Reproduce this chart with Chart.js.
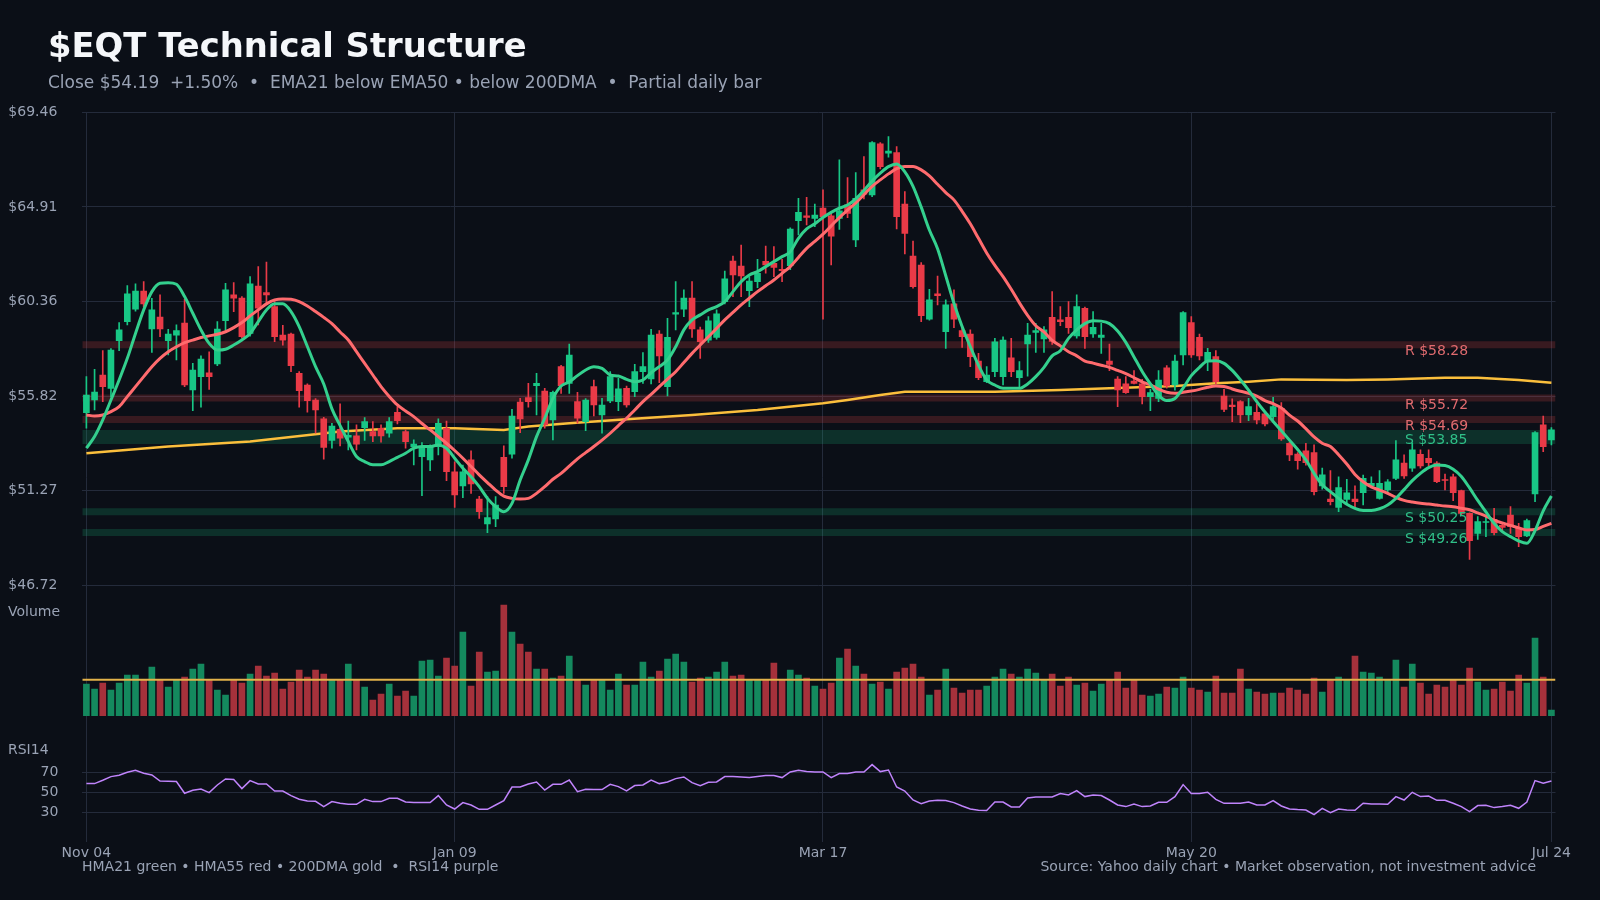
<!DOCTYPE html>
<html>
<head>
<meta charset="utf-8">
<title>$EQT Technical Structure</title>
<script src="https://cdn.jsdelivr.net/npm/chart.js@4.4.1/dist/chart.umd.min.js"></script>
<style>
  html, body { margin: 0; padding: 0; background: #0b0f17; }
  #wrap { position: relative; width: 1600px; height: 900px; overflow: hidden; background: #0b0f17; }
  #chart { position: absolute; left: 0; top: 0; }
  .txt { position: absolute; font-family: "DejaVu Sans", sans-serif; white-space: pre; }
  #title { left: 48px; top: 25.5px; font-size: 33.8px; line-height: 40px; font-weight: bold; color: #f5f7fa; }
  #subtitle { left: 48px; top: 71.5px; font-size: 17px; line-height: 20px; color: #9aa3b5; }
  #footLeft { left: 82px; top: 858px; font-size: 14px; line-height: 16px; color: #9aa3b5; }
  #footRight { right: 64px; top: 858px; font-size: 14px; line-height: 16px; color: #9aa3b5; }
</style>
</head>
<body>
<div id="wrap">
  <canvas id="chart" width="1600" height="900"></canvas>
  <div id="title" class="txt">$EQT Technical Structure</div>
  <div id="subtitle" class="txt">Close $54.19  +1.50%  •  EMA21 below EMA50 • below 200DMA  •  Partial daily bar</div>
  <div id="footLeft" class="txt">HMA21 green • HMA55 red • 200DMA gold  •  RSI14 purple</div>
  <div id="footRight" class="txt">Source: Yahoo daily chart • Market observation, not investment advice</div>
</div>
<script>
// daily bars, Nov 04 -> Jul 24 (180 sessions)
const opens = [
  55.02, 55.63, 56.83, 56.19, 58.48, 59.40, 60.00, 60.87, 59.04, 59.62,
  58.48, 58.75, 59.33, 56.11, 56.75, 56.94, 57.36, 59.44, 60.68, 60.53,
  58.83, 61.11, 60.79, 60.12, 58.75, 58.80, 56.91, 56.35, 55.63, 54.72,
  53.68, 54.22, 53.84, 53.90, 54.30, 54.11, 54.27, 54.03, 55.04, 54.11,
  53.39, 52.91, 52.75, 53.39, 54.27, 52.18, 51.50, 52.75, 50.87, 49.67,
  49.91, 52.87, 53.03, 55.53, 55.74, 56.32, 56.06, 54.67, 57.23, 56.43,
  55.55, 54.59, 56.27, 54.91, 55.58, 55.55, 56.19, 56.03, 56.99, 56.64,
  58.80, 56.27, 59.75, 60.00, 60.53, 59.00, 58.51, 58.64, 60.36, 62.31,
  62.07, 60.89, 61.32, 62.30, 62.20, 61.91, 62.09, 64.25, 64.48, 64.36,
  64.85, 64.48, 64.36, 65.01, 63.32, 65.73, 65.49, 67.94, 67.49, 67.52,
  65.05, 62.55, 62.12, 59.52, 60.73, 58.91, 60.25, 58.96, 58.80, 57.50,
  56.51, 56.99, 56.75, 57.66, 56.70, 58.32, 58.88, 58.56, 59.60, 59.48,
  59.60, 58.71, 60.04, 58.80, 58.64, 57.50, 56.64, 56.40, 56.54, 56.40,
  55.79, 55.71, 57.18, 56.35, 57.79, 59.35, 58.64, 57.47, 57.71, 55.82,
  55.39, 55.55, 54.91, 55.04, 54.96, 54.83, 55.23, 53.55, 53.03, 53.19,
  53.10, 51.50, 50.87, 50.47, 50.85, 50.87, 51.17, 51.50, 50.90, 51.30,
  51.86, 52.59, 52.35, 53.02, 52.83, 52.59, 51.80, 51.94, 51.27, 50.18,
  49.22, 49.74, 49.89, 49.60, 50.10, 49.46, 49.09, 51.11, 54.43, 53.71
];
const highs = [
  56.75, 57.10, 58.00, 58.10, 59.35, 61.13, 61.21, 61.32, 60.52, 60.68,
  59.03, 59.24, 60.47, 57.39, 57.75, 57.95, 59.40, 61.24, 61.27, 60.60,
  61.56, 62.04, 62.26, 60.40, 59.22, 58.85, 57.00, 56.40, 55.70, 54.80,
  54.51, 55.44, 54.62, 54.43, 54.78, 54.59, 54.43, 54.78, 55.31, 54.20,
  53.71, 53.58, 53.47, 54.72, 54.62, 52.66, 52.50, 53.19, 51.00, 50.98,
  50.98, 53.42, 55.18, 55.71, 56.43, 56.91, 56.19, 56.06, 57.30, 58.32,
  56.00, 55.70, 56.59, 55.71, 56.99, 56.67, 56.30, 57.34, 57.91, 59.03,
  58.96, 59.56, 61.32, 60.92, 61.32, 59.13, 59.64, 59.96, 61.83, 62.55,
  63.08, 61.56, 62.39, 63.03, 63.00, 62.39, 63.90, 65.33, 65.37, 65.05,
  65.73, 64.70, 67.17, 66.32, 66.56, 67.33, 68.05, 68.00, 68.29, 67.81,
  65.65, 63.27, 62.23, 60.95, 61.59, 60.44, 60.92, 59.07, 59.00, 57.87,
  57.23, 58.59, 58.67, 58.59, 57.47, 59.32, 59.32, 59.16, 60.84, 60.12,
  60.36, 60.68, 60.10, 59.88, 59.32, 58.32, 56.75, 56.75, 57.04, 56.62,
  56.14, 57.04, 57.28, 57.79, 59.88, 59.64, 58.80, 58.11, 58.00, 56.14,
  55.68, 55.60, 55.71, 55.44, 55.00, 55.76, 55.50, 53.60, 53.10, 53.55,
  53.47, 52.35, 52.23, 51.94, 51.81, 51.50, 52.02, 51.94, 52.23, 51.80,
  53.68, 52.99, 53.55, 53.23, 53.23, 52.67, 52.07, 52.07, 51.30, 50.20,
  50.02, 50.02, 50.42, 49.70, 50.50, 49.70, 49.90, 54.11, 54.86, 54.30
];
const lows = [
  54.27, 55.15, 55.55, 55.79, 58.00, 59.24, 59.90, 60.10, 57.91, 58.67,
  57.79, 57.55, 56.27, 55.12, 55.28, 56.14, 57.28, 59.00, 59.88, 58.60,
  58.70, 59.24, 60.28, 58.43, 58.27, 56.99, 55.28, 55.04, 54.03, 52.78,
  53.31, 53.42, 53.23, 53.23, 53.68, 53.63, 53.60, 53.84, 54.48, 53.31,
  52.51, 51.03, 52.23, 52.99, 51.75, 50.47, 50.93, 51.14, 49.94, 49.25,
  49.54, 51.14, 52.83, 54.06, 55.28, 54.91, 54.27, 53.71, 55.95, 55.95,
  54.51, 54.16, 54.86, 54.03, 55.50, 55.12, 55.28, 55.79, 56.43, 56.40,
  56.46, 55.82, 59.00, 59.64, 58.64, 57.63, 58.40, 58.55, 60.25, 60.60,
  60.60, 60.12, 61.03, 61.72, 61.56, 61.32, 61.90, 63.56, 64.04, 63.96,
  59.51, 62.12, 63.83, 64.40, 63.00, 65.30, 65.40, 66.74, 67.30, 63.85,
  62.65, 61.00, 59.40, 59.47, 60.20, 58.11, 59.11, 58.16, 57.23, 56.60,
  56.46, 56.75, 56.35, 56.75, 56.24, 56.78, 57.91, 57.91, 58.30, 59.20,
  58.83, 58.60, 58.11, 58.64, 57.87, 57.04, 55.31, 55.95, 56.40, 55.44,
  55.12, 55.55, 56.20, 56.10, 57.31, 57.68, 57.55, 57.04, 56.40, 55.07,
  54.59, 54.54, 54.64, 54.48, 54.38, 54.70, 53.68, 52.71, 52.30, 52.50,
  51.06, 51.34, 50.58, 50.26, 50.66, 50.47, 50.58, 51.40, 50.86, 51.14,
  51.80, 51.86, 52.19, 52.35, 52.46, 51.66, 51.30, 50.79, 50.10, 47.97,
  48.93, 49.06, 49.14, 49.30, 49.22, 48.58, 49.06, 50.74, 53.15, 53.47
];
const closes = [
  55.87, 56.01, 56.27, 58.03, 59.00, 60.73, 60.87, 60.25, 59.96, 59.04,
  58.80, 58.96, 56.35, 57.07, 57.60, 56.75, 59.04, 60.92, 60.53, 58.67,
  61.21, 60.04, 60.68, 58.67, 58.51, 57.28, 56.08, 55.60, 55.15, 53.35,
  54.38, 53.79, 53.93, 53.51, 54.59, 53.90, 53.90, 54.59, 54.64, 53.63,
  53.51, 53.39, 53.39, 54.51, 52.18, 51.06, 52.18, 51.59, 50.26, 49.97,
  50.58, 51.46, 54.86, 54.72, 55.55, 56.43, 54.43, 56.00, 56.32, 57.79,
  54.75, 55.63, 55.39, 55.39, 56.75, 56.16, 55.39, 56.99, 57.23, 58.75,
  57.75, 58.64, 59.83, 60.53, 59.04, 58.43, 59.44, 59.77, 61.45, 61.64,
  61.59, 61.35, 61.72, 62.12, 62.00, 61.85, 63.85, 64.65, 64.41, 64.52,
  64.44, 63.51, 64.72, 64.60, 65.33, 65.53, 68.00, 66.85, 67.60, 64.44,
  63.64, 61.08, 59.68, 60.44, 60.65, 60.20, 59.51, 58.67, 57.71, 56.70,
  56.83, 58.43, 58.51, 56.99, 57.04, 58.75, 58.96, 59.00, 58.45, 59.40,
  59.11, 60.12, 58.67, 59.12, 58.75, 57.34, 56.11, 55.98, 56.43, 55.79,
  55.98, 56.59, 56.30, 57.50, 59.83, 57.79, 57.75, 57.92, 56.51, 55.18,
  55.31, 54.91, 55.31, 54.67, 54.48, 55.31, 53.76, 52.99, 52.71, 52.62,
  51.22, 52.03, 50.74, 51.42, 51.17, 50.74, 51.86, 51.62, 51.62, 51.70,
  52.75, 51.98, 53.23, 52.46, 52.62, 51.70, 51.76, 51.17, 50.18, 48.87,
  49.78, 49.78, 49.25, 49.50, 49.54, 49.06, 49.83, 54.06, 53.39, 54.19
];
// volume, millions of shares
const volumes = [
  6.3, 5.3, 6.5, 5.1, 6.5, 8.1, 8.1, 7.1, 9.7, 7.1,
  5.7, 7.1, 7.7, 9.3, 10.3, 7.1, 5.1, 4.1, 7.1, 6.5,
  8.3, 9.9, 7.9, 8.5, 5.3, 6.7, 9.1, 7.7, 9.1, 8.3,
  7.1, 7.1, 10.3, 7.1, 5.7, 3.1, 4.3, 6.3, 3.9, 4.9,
  3.9, 10.9, 11.1, 7.9, 11.5, 9.9, 16.7, 5.9, 12.7, 8.7,
  8.9, 22.1, 16.7, 14.3, 12.7, 9.3, 9.3, 7.5, 7.9, 11.9,
  7.1, 6.1, 7.1, 7.1, 5.1, 8.3, 6.1, 6.1, 10.7, 7.7,
  8.9, 11.3, 12.3, 10.7, 6.7, 7.5, 7.7, 8.7, 10.7, 7.9,
  8.1, 7.1, 7.1, 7.1, 10.5, 7.1, 9.1, 8.1, 7.5, 5.9,
  5.3, 6.5, 11.5, 13.3, 9.9, 8.3, 6.3, 6.7, 5.3, 8.7,
  9.5, 10.3, 7.7, 4.1, 5.1, 9.3, 5.5, 4.5, 5.1, 5.1,
  5.9, 7.7, 9.3, 8.3, 7.7, 9.3, 8.5, 7.1, 8.3, 5.9,
  7.7, 6.1, 6.5, 4.9, 6.3, 7.1, 8.7, 5.5, 7.1, 4.1,
  3.9, 4.3, 5.7, 5.5, 7.7, 5.5, 5.1, 4.7, 7.9, 4.5,
  4.5, 9.3, 5.3, 4.7, 4.3, 4.5, 4.5, 5.5, 5.1, 4.3,
  7.5, 4.7, 7.1, 7.7, 7.1, 11.9, 8.7, 8.5, 7.7, 7.1,
  11.1, 5.7, 10.3, 6.5, 4.3, 6.1, 5.7, 7.1, 6.1, 9.5,
  6.7, 5.1, 5.3, 6.7, 4.9, 8.1, 6.5, 15.5, 7.7, 1.1
];
const volAvg = 7.2;
const rsi14 = [
  58.7, 58.7, 62.0, 65.7, 67.0, 70.0, 72.0, 69.0, 67.3, 61.3,
  61.0, 60.7, 49.0, 52.0, 53.3, 49.7, 57.3, 63.3, 62.7, 53.7,
  61.7, 58.3, 58.3, 51.3, 51.3, 46.7, 43.0, 41.3, 41.0, 35.7,
  40.7, 39.0, 38.0, 38.0, 43.0, 40.7, 40.7, 44.0, 44.0, 40.3,
  39.7, 39.7, 39.7, 46.7, 37.3, 33.3, 39.7, 37.3, 33.0, 33.0,
  37.3, 41.7, 55.3, 55.3, 58.3, 60.3, 52.3, 58.0, 58.0, 62.3,
  50.7, 53.0, 52.7, 52.7, 58.0, 55.7, 51.3, 56.7, 57.3, 62.3,
  58.7, 60.3, 63.7, 65.3, 59.7, 56.7, 60.0, 60.3, 65.7, 65.7,
  65.3, 64.7, 65.7, 66.7, 66.7, 64.7, 70.3, 72.0, 70.7, 70.3,
  70.3, 64.7, 68.7, 68.7, 70.3, 70.3, 77.7, 70.7, 72.3, 55.3,
  51.3, 42.3, 38.7, 41.3, 42.0, 41.7, 39.7, 36.3, 33.3, 32.0,
  31.7, 40.3, 40.3, 35.3, 35.3, 44.3, 45.3, 45.3, 45.3, 48.7,
  47.3, 51.7, 45.7, 47.3, 46.7, 42.3, 37.3, 35.7, 38.3, 35.7,
  36.3, 40.0, 40.0, 45.7, 57.7, 48.7, 48.7, 50.0, 43.0, 39.0,
  39.0, 39.0, 40.3, 37.3, 37.3, 41.7, 36.3, 33.3, 32.7, 32.3,
  27.7, 34.0, 29.7, 33.3, 32.3, 32.0, 39.0, 38.3, 38.3, 38.0,
  45.7, 42.3, 50.0, 45.7, 46.3, 42.0, 42.0, 39.0, 35.7, 30.7,
  36.7, 37.0, 34.7, 35.7, 37.0, 34.0, 40.3, 61.7, 59.0, 61.3
];
const hma21 = [
  53.31, 53.87, 54.67, 55.63, 56.59, 57.63, 58.83, 59.96, 60.84, 61.24,
  61.27, 61.19, 60.60, 59.80, 59.00, 58.35, 58.03, 58.07, 58.27, 58.51,
  58.83, 59.40, 59.96, 60.25, 60.25, 59.88, 59.16, 58.20, 57.23, 56.40,
  55.20, 54.40, 53.63, 52.91, 52.67, 52.51, 52.51, 52.67, 52.87, 53.07,
  53.31, 53.39, 53.39, 53.47, 53.31, 52.83, 52.35, 51.94, 51.46, 50.90,
  50.50, 50.26, 50.66, 51.78, 52.75, 53.87, 54.75, 55.71, 56.30, 56.50,
  56.80, 57.07, 57.23, 57.15, 56.83, 56.78, 56.62, 56.51, 56.59, 56.94,
  57.23, 57.55, 58.19, 59.00, 59.48, 59.72, 59.96, 60.12, 60.36, 60.84,
  61.32, 61.64, 61.80, 62.04, 62.28, 62.52, 62.76, 63.40, 63.85, 64.10,
  64.40, 64.65, 64.85, 65.00, 65.30, 65.70, 66.15, 66.53, 66.85, 66.98,
  66.60, 65.90, 64.90, 63.80, 62.90, 61.60, 60.28, 59.16, 58.19, 57.30,
  56.59, 56.35, 56.19, 56.19, 56.19, 56.40, 56.75, 57.20, 57.75, 58.00,
  58.59, 59.00, 59.30, 59.44, 59.42, 59.30, 58.95, 58.40, 57.70, 57.00,
  56.40, 55.85, 55.60, 55.70, 56.20, 56.80, 57.20, 57.50, 57.52, 57.39,
  57.05, 56.60, 56.10, 55.55, 55.05, 54.60, 54.15, 53.70, 53.25, 52.75,
  52.10, 51.55, 51.22, 50.90, 50.62, 50.42, 50.32, 50.32, 50.40, 50.58,
  50.90, 51.32, 51.75, 52.10, 52.38, 52.50, 52.48, 52.30, 51.95, 51.40,
  50.80, 50.25, 49.70, 49.30, 49.06, 48.85, 48.74, 49.35, 50.30, 51.01
];
const hma55 = [
  54.91, 54.86, 54.91, 55.07, 55.31, 55.79, 56.27, 56.75, 57.23, 57.63,
  57.95, 58.19, 58.39, 58.51, 58.63, 58.71, 58.79, 58.91, 59.11, 59.35,
  59.67, 59.96, 60.25, 60.44, 60.49, 60.47, 60.36, 60.15, 59.88, 59.60,
  59.30, 58.90, 58.51, 57.95, 57.39, 56.83, 56.27, 55.80, 55.39, 55.10,
  54.83, 54.50, 54.19, 53.87, 53.55, 53.20, 52.83, 52.43, 52.03, 51.66,
  51.30, 51.01, 50.90, 50.87, 50.90, 51.14, 51.46, 51.82, 52.10, 52.45,
  52.80, 53.10, 53.39, 53.70, 54.03, 54.40, 54.75, 55.15, 55.55, 55.90,
  56.27, 56.63, 56.99, 57.43, 57.87, 58.27, 58.67, 59.07, 59.48, 59.84,
  60.20, 60.52, 60.84, 61.12, 61.40, 61.72, 62.04, 62.48, 62.92, 63.25,
  63.60, 64.00, 64.40, 64.76, 65.10, 65.50, 65.90, 66.21, 66.50, 66.75,
  66.85, 66.85, 66.69, 66.40, 66.00, 65.60, 65.25, 64.70, 64.10, 63.40,
  62.70, 62.10, 61.56, 60.95, 60.30, 59.70, 59.20, 58.90, 58.50, 58.23,
  57.95, 57.75, 57.50, 57.40, 57.30, 57.20, 57.05, 56.90, 56.70, 56.50,
  56.35, 56.15, 56.00, 55.95, 56.00, 56.06, 56.14, 56.24, 56.30, 56.28,
  56.16, 56.05, 55.95, 55.82, 55.60, 55.45, 55.25, 54.90, 54.62, 54.25,
  53.85, 53.55, 53.39, 53.00, 52.55, 52.05, 51.70, 51.45, 51.30, 51.14,
  50.95, 50.80, 50.72, 50.66, 50.63, 50.58, 50.53, 50.50, 50.42, 50.35,
  50.20, 50.05, 49.85, 49.72, 49.60, 49.48, 49.38, 49.40, 49.55, 49.70
];
// 200DMA read at a few sessions
const dmaAt = [0, 10, 20, 31, 38, 45, 51, 54, 59, 66, 74, 82, 90, 93, 97, 100, 111, 119, 125, 133, 138, 142, 146, 154, 159, 166, 170, 175, 179];
const dma200 = [53.07, 53.39, 53.63, 54.11, 54.27, 54.27, 54.19, 54.35, 54.51, 54.70, 54.91, 55.15, 55.47, 55.63, 55.87, 56.03, 56.03, 56.11, 56.19, 56.30, 56.43, 56.51, 56.62, 56.59, 56.62, 56.70, 56.70, 56.59, 56.46];

const levelPrices = [58.28, 55.72, 54.69, 53.85, 50.25, 49.26];
const levelKinds = ['R', 'R', 'R', 'S', 'S', 'S'];

const priceTicks = [46.72, 51.27, 55.82, 60.36, 64.91, 69.46];
const rsiTicks = [30, 50, 70];
const dateTickAt = [0, 45, 90, 135, 179];
const dateTickLabels = ['Nov 04', 'Jan 09', 'Mar 17', 'May 20', 'Jul 24'];

// styling
const GRID = '#242b3b';
const TICK = '#9aa3b5';
const UP = '#18c785';
const DOWN = '#e93a47';
const UP_VOL = '#14895e';
const DOWN_VOL = '#a5313b';
const bandWidths = [7, 7, 7, 14, 7, 7];
const labelDy = [6.5, 7, 7, 3, 6.5, 7];

Chart.defaults.font.family = '"DejaVu Sans", sans-serif';
Chart.defaults.font.size = 14;
Chart.defaults.color = TICK;

const idx = closes.map((_, i) => i);
const isUp = idx.map(i => closes[i] >= opens[i]);
const xMin = -0.5;
const xMax = closes.length - 0.5;

const panelText = {
    id: 'panelText',
    afterDraw(chart) {
        const { ctx, chartArea, scales } = chart;
        ctx.save();
        ctx.font = '14px "DejaVu Sans"';
        ctx.textBaseline = 'middle';
        ctx.textAlign = 'left';
        ctx.fillStyle = TICK;
        ctx.fillText('Volume', 8, scales.vol.top + 27);
        ctx.fillText('RSI14', 8, scales.rsi.top + 8);
        levelPrices.forEach((p, k) => {
            ctx.fillStyle = levelKinds[k] === 'R' ? '#e06b6f' : '#30bf88';
            ctx.fillText(levelKinds[k] + ' $' + p.toFixed(2), chartArea.right - 150.5, scales.y.getPixelForValue(p) + labelDy[k]);
        });
        ctx.restore();
    }
};

const bandSets = levelPrices.map((p, k) => ({
    type: 'line',
    yAxisID: 'y',
    data: [{ x: xMin, y: p }, { x: xMax, y: p }],
    borderColor: levelKinds[k] === 'R' ? 'rgba(239, 68, 68, 0.2)' : 'rgba(24, 199, 133, 0.18)',
    borderWidth: bandWidths[k],
    pointRadius: 0,
    order: 30
}));

new Chart(document.getElementById('chart'), {
    type: 'line',
    data: {
        datasets: [
            ...bandSets,
            {
                type: 'line', yAxisID: 'y',
                data: dmaAt.map((x, k) => ({ x: x, y: dma200[k] })),
                borderColor: '#fbbf3c', borderWidth: 2.5, pointRadius: 0, order: 20
            },
            {
                type: 'bar', yAxisID: 'y',
                data: idx.map(i => ({ x: i, y: [lows[i], highs[i]] })),
                backgroundColor: idx.map(i => isUp[i] ? UP : DOWN),
                barThickness: 1, grouped: false, order: 15
            },
            {
                type: 'bar', yAxisID: 'y',
                data: idx.map(i => ({ x: i, y: [opens[i], closes[i]] })),
                backgroundColor: idx.map(i => isUp[i] ? UP : DOWN),
                barThickness: 6, minBarLength: 1, grouped: false, order: 14
            },
            {
                type: 'line', yAxisID: 'y',
                data: idx.map(i => ({ x: i, y: hma55[i] })),
                borderColor: '#ff6b6e', borderWidth: 3, pointRadius: 0,
                cubicInterpolationMode: 'monotone', order: 6
            },
            {
                type: 'line', yAxisID: 'y',
                data: idx.map(i => ({ x: i, y: hma21[i] })),
                borderColor: '#34d08e', borderWidth: 3, pointRadius: 0,
                cubicInterpolationMode: 'monotone', order: 5
            },
            {
                type: 'bar', yAxisID: 'vol',
                data: idx.map(i => ({ x: i, y: volumes[i] })),
                backgroundColor: idx.map(i => isUp[i] ? UP_VOL : DOWN_VOL),
                barThickness: 6, grouped: false, order: 12
            },
            {
                type: 'line', yAxisID: 'vol',
                data: [{ x: xMin, y: volAvg }, { x: xMax, y: volAvg }],
                borderColor: '#e3b24a', borderWidth: 2, pointRadius: 0, order: 4
            },
            {
                type: 'line', yAxisID: 'rsi',
                data: idx.map(i => ({ x: i, y: rsi14[i] })),
                borderColor: '#c084fc', borderWidth: 1.5, pointRadius: 0, order: 3
            }
        ]
    },
    options: {
        responsive: false,
        animation: false,
        devicePixelRatio: 1,
        events: [],
        layout: { padding: { left: 0, right: 44.5, top: 112.3, bottom: 37.7 } },
        plugins: {
            legend: { display: false },
            tooltip: { enabled: false }
        },
        scales: {
            x: {
                type: 'linear',
                min: xMin,
                max: xMax,
                offset: false,
                afterBuildTicks: (s) => { s.ticks = dateTickAt.map(v => ({ value: v })); },
                afterFit: (s) => { s.height = 20; },
                ticks: {
                    autoSkip: false, maxRotation: 0, padding: 3, color: TICK,
                    callback: (v) => dateTickLabels[dateTickAt.indexOf(v)]
                },
                grid: { color: GRID, drawTicks: false, offset: false },
                border: { display: false }
            },
            y: {
                type: 'linear', position: 'left', stack: 'panes', stackWeight: 473, weight: 3,
                min: 46.72, max: 69.46,
                afterBuildTicks: (s) => { s.ticks = priceTicks.map(v => ({ value: v })); },
                afterFit: (s) => { s.width = 82.3; },
                ticks: { padding: 25, color: TICK, callback: (v) => '$' + v.toFixed(2) },
                grid: { color: GRID, drawTicks: false },
                border: { display: false }
            },
            vol: {
                type: 'linear', position: 'left', stack: 'panes', stackWeight: 157, weight: 2,
                min: -5.32, max: 26.08,
                afterFit: (s) => { s.width = 82.3; },
                ticks: { display: false },
                grid: { display: false, drawTicks: false },
                border: { display: false }
            },
            rsi: {
                type: 'linear', position: 'left', stack: 'panes', stackWeight: 100, weight: 1,
                min: 0, max: 100,
                afterBuildTicks: (s) => { s.ticks = rsiTicks.map(v => ({ value: v })); },
                afterFit: (s) => { s.width = 82.3; },
                ticks: { padding: 24, color: TICK },
                grid: { color: GRID, drawTicks: false },
                border: { display: false }
            }
        }
    },
    plugins: [panelText]
});
</script>
</body>
</html>
